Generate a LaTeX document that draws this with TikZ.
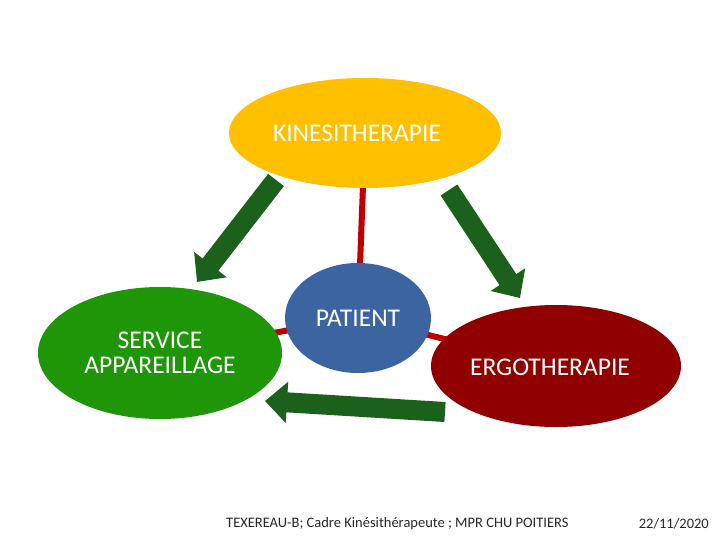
\documentclass[tikz,border=0pt]{standalone}
\usepackage{fontspec}
\setmainfont{Carlito}
\usetikzlibrary{arrows.meta,shapes.geometric}
\definecolor{kyellow}{HTML}{FFC000}
\definecolor{sgreen}{HTML}{1E9608}
\definecolor{pblue}{HTML}{3B64A0}
\definecolor{ered}{HTML}{900000}
\definecolor{arrgreen}{HTML}{1B601B}
\definecolor{linkred}{HTML}{C00000}
\tikzset{
  bubble/.style={inner sep=0pt, text=white, font=\fontsize{25.5}{25}\selectfont, align=center},
  link/.style={draw=linkred, line width=6pt},
  blockarrow/.style={draw=arrgreen, line width=20pt, line cap=butt, -{Triangle[width=40pt,length=22pt]}},
  foottext/.style={text=black!85, font=\fontsize{14.5}{16}\selectfont, inner sep=0pt},
}
\begin{document}
\begin{tikzpicture}[x=1pt,y=-1pt]
\useasboundingbox (0,0) rectangle (720,540);
% centers for links
\coordinate (ck) at (365,133);
\coordinate (cs) at (160,353);
\coordinate (cp) at (358,318);
\coordinate (ce) at (556,366);
\draw[link] (ck) -- (cp);
\draw[link] (cp) -- (cs);
\draw[link] (cp) -- (ce);
\fill[kyellow] (ck) ellipse [x radius=136, y radius=55];
\fill[sgreen] (cs) ellipse [x radius=122, y radius=66];
\fill[pblue] (cp) ellipse [x radius=73, y radius=55];
\fill[ered] (ce) ellipse [x radius=125, y radius=61];
\node[bubble] (kine) at (357,133) {KINESITHERAPIE};
\node[bubble] (serv) at (cs) {SERVICE\\APPAREILLAGE};
\node[bubble] (pat) at (cp) {PATIENT};
\node[bubble] (ergo) at (550,367) {ERGOTHERAPIE};
% arrows
\coordinate (a1t) at (276,180);
\coordinate (a1h) at (197,282);
\coordinate (a2t) at (449,190);
\coordinate (a2h) at (520,298);
\coordinate (a3t) at (445,412);
\coordinate (a3h) at (265,401);
\draw[blockarrow] (a1t) -- (a1h);
\draw[blockarrow] (a2t) -- (a2h);
\draw[blockarrow] (a3t) -- (a3h);
% footer
\node[foottext, anchor=west] (foot) at (226,524) {TEXEREAU-B; Cadre Kinésithérapeute ; MPR CHU POITIERS};
\node[foottext, anchor=east] (date) at (709,524) {22/11/2020};
\end{tikzpicture}
\end{document}
